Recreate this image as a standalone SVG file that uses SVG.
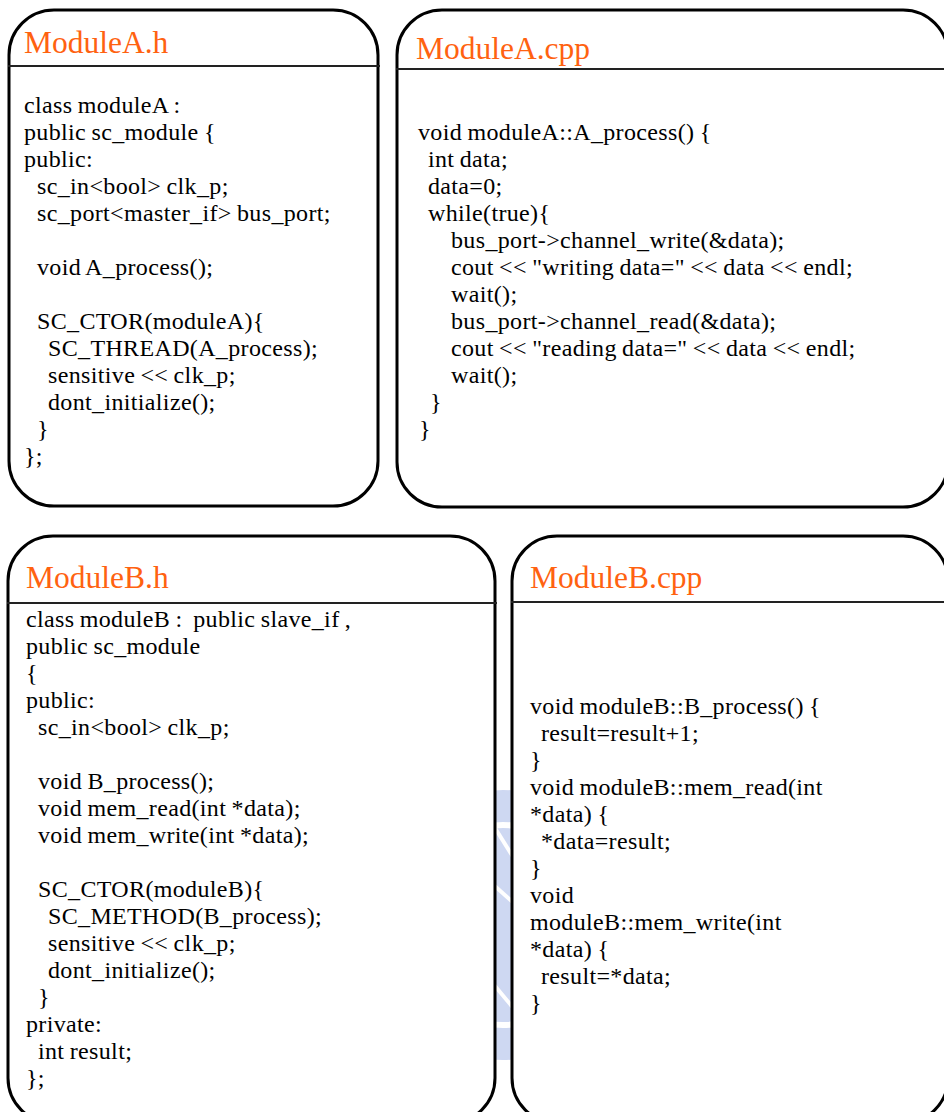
<svg xmlns="http://www.w3.org/2000/svg" width="944" height="1112" viewBox="0 0 944 1112">
  <style>
    .box { fill: #ffffff; stroke: #000000; stroke-width: 3; }
    .rule { stroke: #222222; stroke-width: 2; }
    .title { font-family: "Liberation Serif", "Times New Roman", serif; font-size: 31.5px; fill: #FF6210; }
    .code { font-family: "Liberation Serif", "Times New Roman", serif; font-size: 24px; fill: #000000; letter-spacing: 0.35px; word-spacing: -1px; white-space: pre; }
  </style>
  <rect width="944" height="1112" fill="#ffffff"/>

  <!-- faint seal in the background, only visible between the lower boxes -->
  <g id="seal" opacity="0.5">
    <circle cx="503" cy="925" r="135" fill="#9fb2e6"/>
    <circle cx="503" cy="925" r="100" fill="none" stroke="#ffffff" stroke-width="6"/>
    <path d="M490 820 L515 860 M488 880 L516 905 M490 980 L515 1010" stroke="#ffffff" stroke-width="4" fill="none"/>
  </g>

  <g id="moduleA_h">
    <rect class="box" x="9" y="10" width="369" height="496" rx="45" ry="45"/>
    <line class="rule" x1="8" y1="66" x2="380" y2="66"/>
    <text class="title" x="24" y="53">ModuleA.h</text>
    <text class="code">
      <tspan x="24" y="112.5">class moduleA :</tspan>
      <tspan x="24" y="139.5">public sc_module {</tspan>
      <tspan x="24" y="166.5">public:</tspan>
      <tspan x="37" y="193.5">sc_in&lt;bool&gt; clk_p;</tspan>
      <tspan x="37" y="220.5">sc_port&lt;master_if&gt; bus_port;</tspan>
      <tspan x="37" y="274.5">void A_process();</tspan>
      <tspan x="37" y="328.5">SC_CTOR(moduleA){</tspan>
      <tspan x="48" y="355.5">SC_THREAD(A_process);</tspan>
      <tspan x="48" y="382.5">sensitive &lt;&lt; clk_p;</tspan>
      <tspan x="48" y="409.5">dont_initialize();</tspan>
      <tspan x="37" y="436.5">}</tspan>
      <tspan x="24" y="463.5">};</tspan>
    </text>
  </g>

  <g id="moduleA_cpp">
    <rect class="box" x="397" y="10" width="551" height="497" rx="45" ry="45"/>
    <line class="rule" x1="396" y1="69" x2="944" y2="69"/>
    <text class="title" x="416" y="59">ModuleA.cpp</text>
    <text class="code">
      <tspan x="418" y="140">void moduleA::A_process() {</tspan>
      <tspan x="428" y="167">int data;</tspan>
      <tspan x="428" y="194">data=0;</tspan>
      <tspan x="428" y="221">while(true){</tspan>
      <tspan x="451" y="248">bus_port-&gt;channel_write(&amp;data);</tspan>
      <tspan x="451" y="275">cout &lt;&lt; "writing data=" &lt;&lt; data &lt;&lt; endl;</tspan>
      <tspan x="451" y="302">wait();</tspan>
      <tspan x="451" y="329">bus_port-&gt;channel_read(&amp;data);</tspan>
      <tspan x="451" y="356">cout &lt;&lt; "reading data=" &lt;&lt; data &lt;&lt; endl;</tspan>
      <tspan x="451" y="383">wait();</tspan>
      <tspan x="430" y="410">}</tspan>
      <tspan x="419" y="437">}</tspan>
    </text>
  </g>

  <g id="moduleB_h">
    <rect class="box" x="8" y="536" width="487" height="587" rx="45" ry="45"/>
    <line class="rule" x1="7" y1="603" x2="497" y2="603"/>
    <text class="title" x="26" y="588">ModuleB.h</text>
    <text class="code">
      <tspan x="26" y="627">class moduleB :  public slave_if ,</tspan>
      <tspan x="26" y="654">public sc_module</tspan>
      <tspan x="26" y="681">{</tspan>
      <tspan x="26" y="708">public:</tspan>
      <tspan x="38" y="735">sc_in&lt;bool&gt; clk_p;</tspan>
      <tspan x="38" y="789">void B_process();</tspan>
      <tspan x="38" y="816">void mem_read(int *data);</tspan>
      <tspan x="38" y="843">void mem_write(int *data);</tspan>
      <tspan x="38" y="897">SC_CTOR(moduleB){</tspan>
      <tspan x="48" y="924">SC_METHOD(B_process);</tspan>
      <tspan x="48" y="951">sensitive &lt;&lt; clk_p;</tspan>
      <tspan x="48" y="978">dont_initialize();</tspan>
      <tspan x="38" y="1005">}</tspan>
      <tspan x="26" y="1032">private:</tspan>
      <tspan x="38" y="1059">int result;</tspan>
      <tspan x="26" y="1086">};</tspan>
    </text>
  </g>

  <g id="moduleB_cpp">
    <rect class="box" x="512" y="536" width="436" height="587" rx="45" ry="45"/>
    <line class="rule" x1="511" y1="602" x2="944" y2="602"/>
    <text class="title" x="530" y="588">ModuleB.cpp</text>
    <text class="code">
      <tspan x="530" y="714">void moduleB::B_process() {</tspan>
      <tspan x="541" y="741">result=result+1;</tspan>
      <tspan x="530" y="768">}</tspan>
      <tspan x="530" y="795">void moduleB::mem_read(int</tspan>
      <tspan x="530" y="822">*data) {</tspan>
      <tspan x="541" y="849">*data=result;</tspan>
      <tspan x="530" y="876">}</tspan>
      <tspan x="530" y="903">void</tspan>
      <tspan x="530" y="930">moduleB::mem_write(int</tspan>
      <tspan x="530" y="957">*data) {</tspan>
      <tspan x="541" y="984">result=*data;</tspan>
      <tspan x="530" y="1011">}</tspan>
    </text>
  </g>

  <g id="connectors"/>
</svg>
